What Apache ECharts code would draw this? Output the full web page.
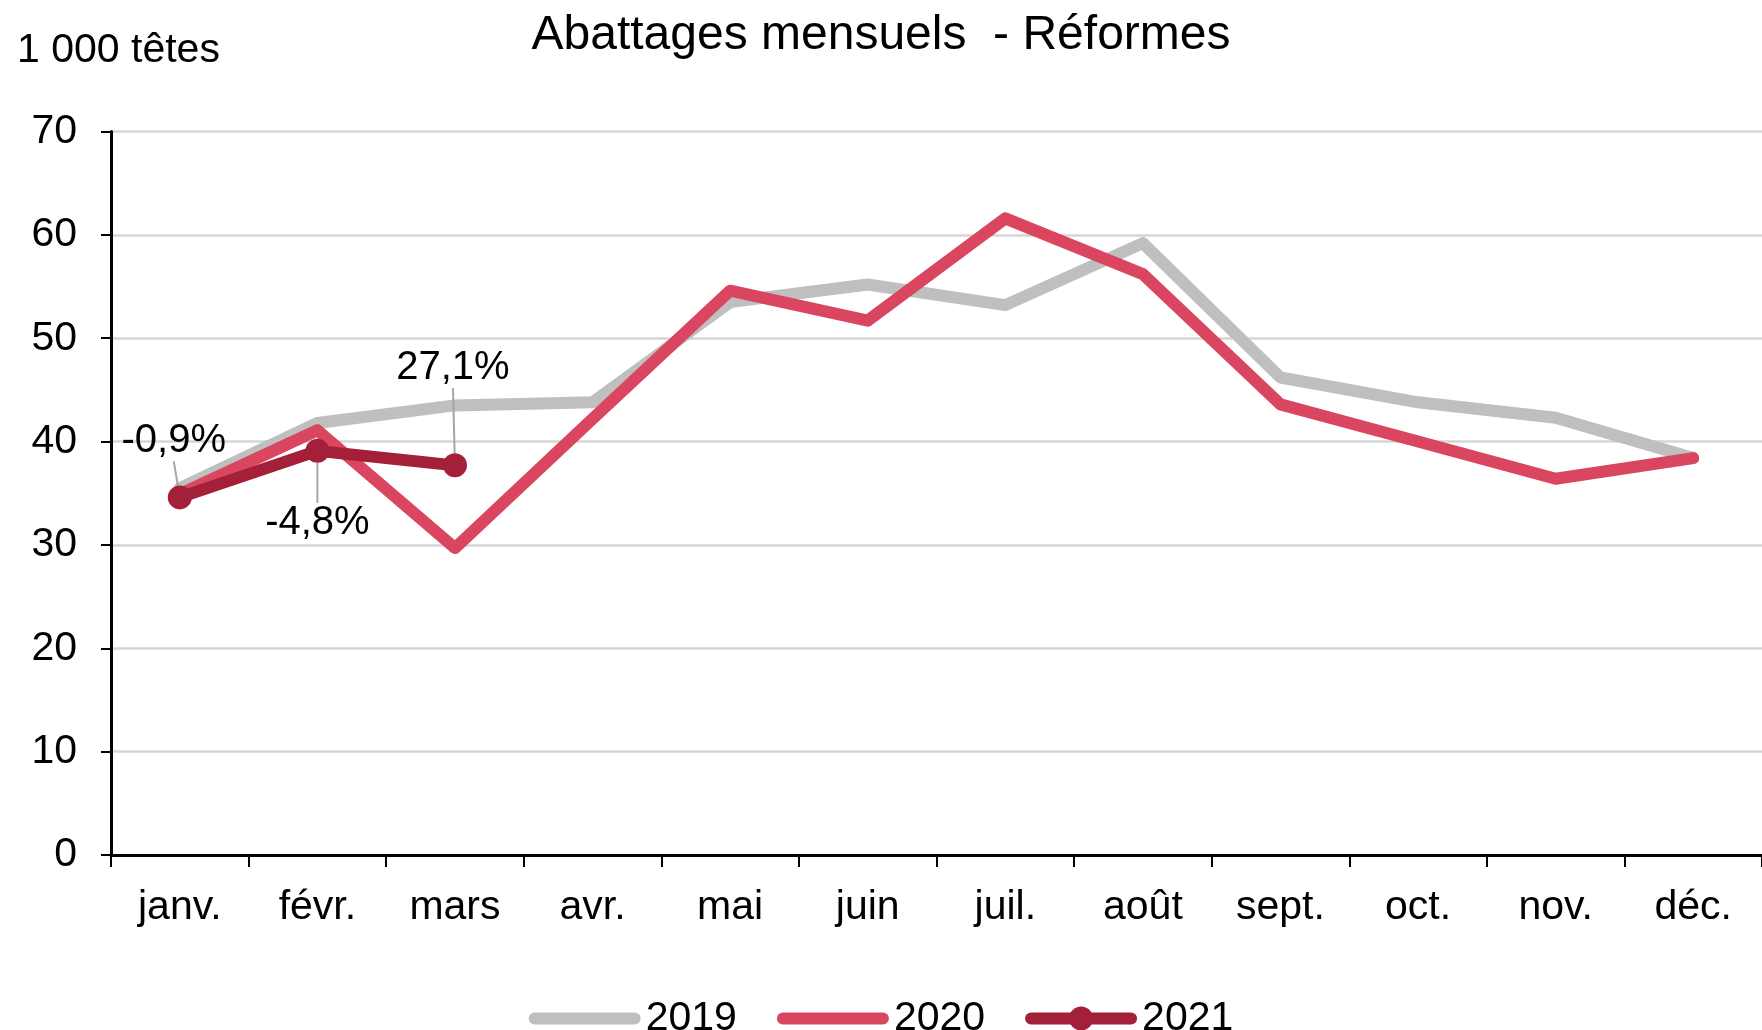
<!DOCTYPE html>
<html>
<head>
<meta charset="utf-8">
<script src="https://cdn.jsdelivr.net/npm/echarts@6/dist/echarts.min.js"></script>
<style>
html,body{margin:0;padding:0;background:#fff;}
#chart{width:1762px;height:1030px;}
</style>
</head>
<body>
<div id="chart"></div>
<script>
const months = ['janv.', 'févr.', 'mars', 'avr.', 'mai', 'juin', 'juil.', 'août', 'sept.', 'oct.', 'nov.', 'déc.'];
const values2019 = [35.5, 41.8, 43.5, 43.8, 53.5, 55.2, 53.2, 59.2, 46.2, 43.8, 42.3, 38.4];
const values2020 = [34.9, 41.1, 29.7, 42.2, 54.6, 51.7, 61.6, 56.2, 43.6, 40.0, 36.4, 38.4];
const values2021 = [34.6, 39.1, 37.7];
const changeLabels = ['-0,9%', '-4,8%', '27,1%'];
const yTicks = { min: 0, max: 70, interval: 10 };

const FONT = "'Liberation Sans', Arial, Helvetica, sans-serif";
const labelOffsets = [[-6, -56], [0, 72], [-2, -97]];

const chart = echarts.init(document.getElementById('chart'));
chart.setOption({
  animation: false,
  textStyle: { fontFamily: FONT, color: '#000' },
  title: [
    { text: 'Abattages mensuels  - Réformes', left: 'center', top: 7,
      textStyle: { fontFamily: FONT, fontSize: 48, fontWeight: 'normal', color: '#000' } },
    { text: '1 000 têtes', left: 12, top: 25,
      textStyle: { fontFamily: FONT, fontSize: 41, fontWeight: 'normal', color: '#000' } }
  ],
  grid: { left: 111, right: 0, top: 131.5, bottom: 175, containLabel: false },
  legend: {
    bottom: -14, left: 'center', itemGap: 40, itemWidth: 100, itemHeight: 30,
    lineStyle: { width: 12, cap: 'round' },
    textStyle: { fontFamily: FONT, fontSize: 41, color: '#000', padding: [0, 0, 0, 6] },
    data: [
      { name: '2019', itemStyle: { opacity: 0 } },
      { name: '2020', itemStyle: { opacity: 0 } },
      { name: '2021' }
    ]
  },
  xAxis: {
    type: 'category', data: months, boundaryGap: true,
    axisLine: { lineStyle: { color: '#000', width: 3 } },
    axisTick: { show: true, length: 12, lineStyle: { color: '#000', width: 2 } },
    axisLabel: { fontFamily: FONT, fontSize: 41, color: '#000', margin: 32 },
    splitLine: { show: false }
  },
  yAxis: {
    type: 'value', min: yTicks.min, max: yTicks.max, interval: yTicks.interval,
    axisLine: { show: true, lineStyle: { color: '#000', width: 3 } },
    axisTick: { show: true, length: 10, lineStyle: { color: '#000', width: 2 } },
    axisLabel: { fontFamily: FONT, fontSize: 41, color: '#000', margin: 34 },
    splitLine: { show: true, lineStyle: { color: '#D6D6D6', width: 2.5 } }
  },
  series: [
    { name: '2019', type: 'line', data: values2019, symbol: 'none', z: 1,
      lineStyle: { color: '#BFBFBF', width: 12, cap: 'round', join: 'round' }, itemStyle: { color: '#BFBFBF' } },
    { name: '2020', type: 'line', data: values2020, symbol: 'none', z: 2,
      lineStyle: { color: '#DA4660', width: 12, cap: 'round', join: 'round' }, itemStyle: { color: '#DA4660' } },
    { name: '2021', type: 'line', data: values2021, symbol: 'circle', symbolSize: 24, z: 3,
      lineStyle: { color: '#A32038', width: 12, cap: 'round', join: 'round' }, itemStyle: { color: '#A32038' },
      label: {
        show: true, position: 'inside', fontFamily: FONT, fontSize: 40, color: '#000',
        formatter: p => changeLabels[p.dataIndex]
      },
      labelLine: { show: true, lineStyle: { color: '#A6A6A6', width: 2 } },
      labelLayout: p => ({ dx: labelOffsets[p.dataIndex][0], dy: labelOffsets[p.dataIndex][1] })
    }
  ]
});
</script>
</body>
</html>
